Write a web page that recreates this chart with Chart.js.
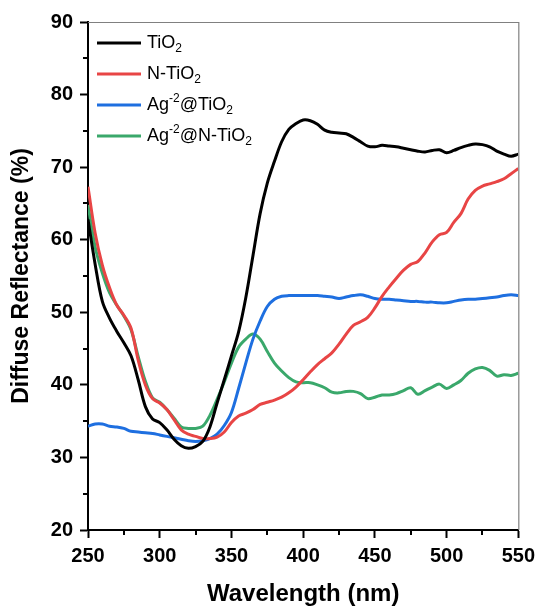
<!DOCTYPE html>
<html>
<head>
<meta charset="utf-8">
<script src="https://cdn.jsdelivr.net/npm/chart.js@4.4.1/dist/chart.umd.min.js"></script>
<style>
    html, body { margin: 0; padding: 0; background: #fff; }
</style>
</head>
<body>
<canvas id="drsChart" width="541" height="607"></canvas>
<script>
// Wavelength grid (nm), read every 5 nm off the figure
const wavelengths = [
    250, 255, 260, 265, 270, 275, 280, 285, 290, 295,
    300, 305, 310, 315, 320, 325, 330, 335, 340, 345,
    350, 355, 360, 365, 370, 375, 380, 385, 390, 395,
    400, 405, 410, 415, 420, 425, 430, 435, 440, 445,
    450, 455, 460, 465, 470, 475, 480, 485, 490, 495,
    500, 505, 510, 515, 520, 525, 530, 535, 540, 545, 550
];

// Diffuse reflectance (%) for each sample
const tio2 = [
    62.8, 56.6, 51.5, 49.2, 47.4, 45.8, 44.0, 40.7, 37.0, 35.3,
    34.8, 33.8, 32.5, 31.6, 31.25, 31.5, 32.2, 34.2, 37.5, 40.7,
    44.0, 47.3, 52.0, 57.8, 63.6, 67.8, 70.8, 73.5, 75.2, 76.0,
    76.5, 76.4, 75.9, 75.1, 74.8, 74.7, 74.6, 74.1, 73.5, 72.9,
    72.8, 73.0, 72.9, 72.8, 72.6, 72.4, 72.2, 72.1, 72.3, 72.4,
    72.0, 72.3, 72.7, 73.0, 73.2, 73.1, 72.8, 72.2, 71.8, 71.5, 71.8
];
const nTio2 = [
    67.3, 60.9, 56.5, 53.4, 51.0, 49.6, 47.8, 43.4, 40.0, 38.1,
    37.5, 36.6, 35.2, 33.8, 33.2, 32.9, 32.6, 32.6, 32.8, 33.5,
    34.8, 35.7, 36.1, 36.6, 37.3, 37.6, 37.9, 38.3, 38.9, 39.7,
    40.7, 41.8, 42.8, 43.6, 44.4, 45.6, 47.0, 48.2, 48.7, 49.3,
    50.6, 52.2, 53.5, 54.7, 55.8, 56.6, 57.0, 58.2, 59.7, 60.7,
    61.0, 62.4, 63.6, 65.6, 66.8, 67.4, 67.7, 68.0, 68.4, 69.1, 69.8
];
const agTio2 = [
    34.3, 34.6, 34.6, 34.3, 34.2, 34.0, 33.6, 33.5, 33.4, 33.3,
    33.1, 32.9, 32.7, 32.5, 32.3, 32.2, 32.3, 32.6, 33.2, 34.4,
    36.2, 39.5, 43.0, 46.3, 48.8, 50.8, 51.8, 52.2, 52.3, 52.3,
    52.3, 52.3, 52.3, 52.2, 52.1, 51.9, 52.1, 52.3, 52.4, 52.2,
    51.9, 51.8, 51.8, 51.7, 51.6, 51.5, 51.5, 51.4, 51.4, 51.3,
    51.3, 51.5, 51.7, 51.8, 51.8, 51.9, 52.0, 52.1, 52.3, 52.4, 52.3
];
const agNTio2 = [
    64.8, 59.0, 55.4, 52.7, 51.0, 49.5, 47.6, 43.9, 40.5, 38.2,
    37.6, 36.6, 35.4, 34.2, 34.0, 34.0, 34.3, 35.8, 38.0, 40.4,
    43.0, 45.2, 46.3, 47.0, 46.3, 44.6, 43.0, 41.9, 41.0, 40.4,
    40.3, 40.3, 40.0, 39.6, 39.0, 38.9, 39.1, 39.1, 38.8, 38.1,
    38.3, 38.6, 38.6, 38.8, 39.2, 39.6, 38.7, 39.2, 39.7, 40.1,
    39.5, 40.0, 40.6, 41.6, 42.2, 42.4, 42.0, 41.2, 41.4, 41.3, 41.6
];

// Legend names: _x = subscript, ^x = superscript
const seriesNames = ["TiO_2", "N-TiO_2", "Ag^-2@TiO_2", "Ag^-2@N-TiO_2"];
const seriesColors = ["#000000", "#e84545", "#1e6fe0", "#3aa86b"];
const seriesValues = [tio2, nTio2, agTio2, agNTio2];

const xTicks = [250, 300, 350, 400, 450, 500, 550];
const yTicks = [20, 30, 40, 50, 60, 70, 80, 90];

const FONT = "'Liberation Sans', Arial, sans-serif";

// Minor ticks, gray top/right frame and the legend with sub/superscripts
const decorPlugin = {
    id: 'decor',
    afterDraw(chart) {
        const c = chart.ctx;
        const area = chart.chartArea;
        const xs = chart.scales.x;
        const ys = chart.scales.y;

        c.save();
        // frame top/right
        c.strokeStyle = '#808080';
        c.lineWidth = 1.2;
        c.beginPath();
        c.moveTo(area.left, area.top + 0.5);
        c.lineTo(area.right + 0.5, area.top + 0.5);
        c.lineTo(area.right + 0.5, area.bottom);
        c.stroke();

        // minor ticks
        c.strokeStyle = '#000';
        c.lineWidth = 2;
        c.beginPath();
        for (let i = 0; i < xTicks.length - 1; i++) {
            const px = Math.round(xs.getPixelForValue((xTicks[i] + xTicks[i + 1]) / 2));
            c.moveTo(px, area.bottom);
            c.lineTo(px, area.bottom + 5);
        }
        for (let i = 0; i < yTicks.length - 1; i++) {
            const py = Math.round(ys.getPixelForValue((yTicks[i] + yTicks[i + 1]) / 2));
            c.moveTo(area.left, py);
            c.lineTo(area.left - 5, py);
        }
        c.stroke();

        // legend
        const lx = 97, tx = 147;
        let ly = 43;
        chart.data.datasets.forEach((ds, i) => {
            c.strokeStyle = ds.borderColor;
            c.lineWidth = 3;
            c.beginPath();
            c.moveTo(lx, ly);
            c.lineTo(lx + 44, ly);
            c.stroke();

            c.fillStyle = '#000';
            c.textBaseline = 'middle';
            c.textAlign = 'left';
            let x = tx;
            const parts = seriesNames[i].split(/(_[0-9]+|\^-?[0-9]+)/).filter(p => p);
            parts.forEach(p => {
                let dy = 0, txt = p;
                if (p[0] === '_') {
                    c.font = '12px ' + FONT;
                    dy = 6; txt = p.slice(1);
                } else if (p[0] === '^') {
                    c.font = '12px ' + FONT;
                    dy = -6; txt = p.slice(1);
                } else {
                    c.font = '18px ' + FONT;
                }
                c.fillText(txt, x, ly + dy);
                x += c.measureText(txt).width;
            });
            ly += 31;
        });
        c.restore();
    }
};

const ctx = document.getElementById('drsChart').getContext('2d');
const drsChart = new Chart(ctx, {
    type: 'line',
    data: {
        datasets: seriesValues.map((vals, i) => ({
            label: seriesNames[i],
            data: wavelengths.map((w, j) => ({ x: w, y: vals[j] })),
            borderColor: seriesColors[i],
            borderWidth: 3,
            pointRadius: 0,
            tension: 0.35,
            fill: false
        }))
    },
    options: {
        responsive: false,
        animation: false,
        layout: { padding: { top: 22, right: 21, left: 0, bottom: 0 } },
        plugins: {
            legend: { display: false },
            tooltip: { enabled: false }
        },
        scales: {
            x: {
                type: 'linear',
                min: 250,
                max: 550,
                afterFit: s => { s.height = 77; },
                afterBuildTicks: s => { s.ticks = xTicks.map(v => ({ value: v })); },
                ticks: {
                    color: '#000',
                    padding: 6,
                    maxRotation: 0,
                    font: { family: FONT, size: 20, weight: 'bold' }
                },
                grid: {
                    drawOnChartArea: false,
                    tickLength: 8,
                    tickWidth: 2,
                    tickColor: '#000'
                },
                border: { color: '#000', width: 2 },
                title: {
                    display: true,
                    text: 'Wavelength (nm)',
                    color: '#000',
                    padding: { top: 0, bottom: 1 },
                    font: { family: FONT, size: 24, weight: 'bold', lineHeight: 1 }
                }
            },
            y: {
                min: 20,
                max: 90,
                afterFit: s => { s.width = 88; },
                afterBuildTicks: s => { s.ticks = yTicks.map(v => ({ value: v })); },
                ticks: {
                    color: '#000',
                    padding: 7,
                    font: { family: FONT, size: 20, weight: 'bold' }
                },
                grid: {
                    drawOnChartArea: false,
                    tickLength: 8,
                    tickWidth: 2,
                    tickColor: '#000'
                },
                border: { color: '#000', width: 2 },
                title: {
                    display: true,
                    text: 'Diffuse Reflectance (%)',
                    color: '#000',
                    padding: { top: 10, bottom: 0 },
                    font: { family: FONT, size: 23, weight: 'bold', lineHeight: 1 }
                }
            }
        }
    },
    plugins: [decorPlugin]
});
</script>
</body>
</html>
